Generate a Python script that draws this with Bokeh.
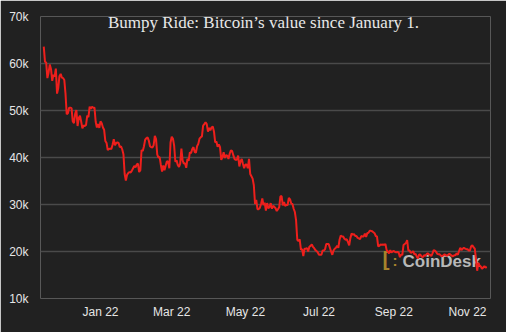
import pandas as pd
from bokeh.plotting import figure
from bokeh.models import Range1d, FixedTicker, DatetimeTickFormatter, Label, ColumnDataSource
from bokeh.embed import file_html
from bokeh.resources import INLINE

# Daily BTC price (thousand USD)
start_date = "2021-11-15"
nov21 = [63.6, 60.4, 60.2, 56.9, 58.1, 59.8, 58.8, 56.3, 57.6, 57.2, 58.9, 53.6, 54.8, 57.3, 57.8, 57.0]
dec21 = [56.9, 56.5, 53.6, 49.2, 49.4, 50.6, 50.6, 50.5, 47.7, 47.3,
         49.3, 50.1, 46.7, 48.4, 48.9, 47.6, 46.2, 46.8, 46.7, 46.9,
         48.9, 48.6, 50.8, 50.4, 50.8, 50.6, 50.6, 47.6, 46.4, 47.1, 46.3]
jan22 = [47.7, 47.3, 46.4, 45.9, 43.5, 43.1, 41.6, 41.8, 41.9, 41.8,
         42.7, 43.9, 42.6, 43.1, 43.2, 43.1, 42.2, 42.4, 41.7, 40.7,
         36.5, 35.1, 36.3, 36.7, 36.9, 36.8, 37.2, 37.7, 38.2, 37.9, 38.5]
feb22 = [38.7, 36.9, 37.3, 41.6, 41.4, 42.4, 43.8, 44.1, 44.3, 43.6,
         42.4, 42.2, 42.1, 42.6, 44.6, 43.9, 40.6, 40.0, 40.1, 38.4,
         37.0, 38.3, 37.3, 38.3, 39.2, 39.1, 37.7, 43.2]
mar22 = [44.4, 44.0, 42.5, 39.1, 39.4, 38.4, 38.0, 38.7, 41.9, 39.4,
         38.7, 38.8, 37.8, 39.7, 39.3, 41.1, 40.9, 41.8, 42.2, 41.2,
         41.0, 42.4, 42.9, 44.0, 44.3, 44.5, 46.8, 47.1, 47.5, 47.1, 45.5]
apr22 = [46.3, 45.8, 46.4, 46.6, 45.5, 43.2, 43.4, 42.3, 42.8, 42.2,
         39.5, 40.1, 41.1, 39.9, 40.5, 40.4, 39.7, 40.8, 41.5, 41.4,
         40.5, 39.7, 39.5, 39.5, 40.4, 38.1, 39.2, 39.7, 38.6, 37.7]
may22 = [38.5, 38.5, 37.7, 39.7, 36.5, 36.0, 35.5, 34.1, 30.1, 31.0,
         29.0, 29.0, 29.3, 30.1, 31.3, 29.9, 30.4, 28.7, 30.3, 29.2,
         29.4, 30.3, 29.1, 29.7, 29.5, 29.2, 28.6, 29.0, 29.4, 31.7, 31.8]
jun22 = [29.8, 30.5, 29.7, 29.9, 29.9, 31.4, 31.1, 30.2, 30.1, 29.1,
         28.4, 26.6, 22.5, 22.2, 22.6, 20.4, 20.5, 19.0, 20.6, 20.6,
         20.7, 20.0, 21.0, 21.2, 21.5, 21.0, 20.7, 20.3, 20.1, 19.8]
jul22 = [19.3, 19.3, 19.3, 20.2, 20.2, 20.5, 21.6, 21.6, 21.6, 20.8,
         20.0, 19.3, 20.2, 20.6, 20.8, 21.2, 20.8, 22.5, 23.4, 23.2,
         23.2, 22.7, 22.5, 22.6, 22.0, 21.3, 22.9, 23.8, 23.6, 23.7, 23.3]
aug22 = [23.3, 22.9, 22.8, 22.6, 23.3, 23.2, 23.2, 23.8, 23.1, 23.9,
         24.0, 24.4, 24.4, 24.3, 24.1, 23.9, 23.3, 23.2, 21.1, 21.2,
         21.5, 21.4, 21.5, 21.4, 21.6, 20.3, 20.0, 19.6, 20.3, 19.8, 20.0]
sep22 = [20.1, 19.9, 19.8, 19.9, 19.8, 18.8, 19.3, 19.3, 21.4, 21.6,
         21.8, 22.4, 20.2, 20.2, 19.7, 19.8, 20.1, 19.4, 19.5, 18.9,
         18.5, 19.4, 19.3, 18.9, 18.8, 19.2, 19.1, 19.4, 19.6, 19.4]
oct22 = [19.3, 19.0, 19.6, 20.3, 20.2, 19.9, 19.5, 19.4, 19.4, 19.1,
         19.0, 19.2, 19.4, 19.2, 19.1, 19.3, 19.5, 19.3, 19.1, 19.0,
         19.2, 19.2, 19.6, 19.3, 20.1, 20.8, 20.3, 20.6, 20.8, 20.6, 20.5]
nov22 = [20.5, 20.2, 20.2, 21.1, 21.3, 20.9, 20.6, 18.5, 15.9, 17.6,
         17.0, 16.8, 16.3, 16.6, 16.9, 16.6, 16.7]

y_ticks = [10000, 20000, 30000, 40000, 50000, 60000, 70000]
y_tick_labels = ["10k", "20k", "30k", "40k", "50k", "60k", "70k"]
x_tick_dates = ["2022-01-01", "2022-03-01", "2022-05-01", "2022-07-01", "2022-09-01", "2022-11-01"]
title_text = "Bumpy Ride: Bitcoin\u2019s value since January 1."

values_k = nov21 + dec21 + jan22 + feb22 + mar22 + apr22 + may22 + jun22 + jul22 + aug22 + sep22 + oct22 + nov22
dates = pd.date_range(start_date, periods=len(values_k), freq="D")
src = ColumnDataSource(dict(date=dates, price=[v * 1000 for v in values_k]))

BG = "#212121"
p = figure(width=506, height=332, x_axis_type="datetime", output_backend="svg",
           toolbar_location=None,
           x_range=Range1d(pd.Timestamp("2021-11-12 07:00"), pd.Timestamp("2022-11-20 01:00")),
           y_range=Range1d(10000, 70000),
           min_border_left=40, min_border_right=16, min_border_top=16, min_border_bottom=34)
p.background_fill_color = BG
p.border_fill_color = BG
p.outline_line_color = None

p.xgrid.grid_line_color = None
p.ygrid.grid_line_color = "#4a4a4a"
p.ygrid.grid_line_width = 1.5
p.ygrid.ticker = FixedTicker(ticks=y_ticks)

p.yaxis.ticker = FixedTicker(ticks=y_ticks)
p.yaxis.major_label_overrides = dict(zip(y_ticks, y_tick_labels))
p.xaxis.ticker = FixedTicker(ticks=[pd.Timestamp(d).value // 10**6 for d in x_tick_dates])
p.xaxis.formatter = DatetimeTickFormatter(months="%b %y", days="%b %y", years="%b %y")

for ax in (p.xaxis[0], p.yaxis[0]):
    ax.axis_line_color = None
    ax.major_tick_line_color = None
    ax.minor_tick_line_color = None
    ax.major_tick_out = 0
    ax.major_tick_in = 0
    ax.major_label_text_color = "#e6e6e6"
    ax.major_label_text_font = "Liberation Sans"
    ax.major_label_text_font_size = "12px"
p.yaxis.major_label_standoff = 12
p.xaxis.major_label_standoff = 6

# watermark (drawn beneath the price line)
p.add_layout(Label(x=342, y=40, x_units="screen", y_units="screen", text="[",
                   text_font="Liberation Sans", text_font_size="21px", text_font_style="bold",
                   text_color="#a8842c", text_align="left", text_baseline="middle",
                   level="underlay"))
p.add_layout(Label(x=352, y=38, x_units="screen", y_units="screen", text=":",
                   text_font="Liberation Sans", text_font_size="15px", text_font_style="bold",
                   text_color="#a8842c", text_align="left", text_baseline="middle",
                   level="underlay"))
p.add_layout(Label(x=362, y=37, x_units="screen", y_units="screen", text="CoinDesk",
                   text_font="Liberation Sans", text_font_size="17px", text_font_style="bold",
                   text_color="#b8b8b8", text_align="left", text_baseline="middle",
                   level="underlay"))

p.line("date", "price", source=src, line_color="#ee1f1c", line_width=2)

p.add_layout(Label(x=223, y=276, x_units="screen", y_units="screen", text=title_text,
                   text_font="Liberation Serif", text_font_size="17px", text_color="#e8e8e8",
                   text_align="center", text_baseline="middle"))
p.add_layout(Label(x=450, y=-24, x_units="screen", y_units="screen", text="Highcharts.com",
                   text_font="Liberation Sans", text_font_size="9px", text_color="#999999",
                   text_align="right", text_baseline="middle"))

open("out.html", "w").write(file_html(p, INLINE))
